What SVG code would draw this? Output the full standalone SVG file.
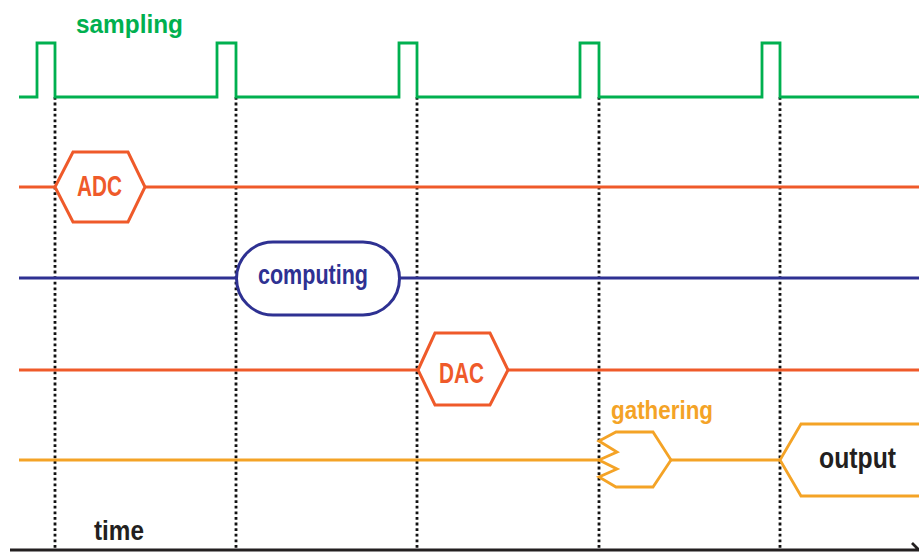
<svg xmlns="http://www.w3.org/2000/svg" width="919" height="553" viewBox="0 0 919 553">
<style>
text{font-family:"Liberation Sans",Arial,sans-serif;font-weight:bold;text-anchor:start}
.g{stroke:#00b04f;stroke-width:2.8;fill:none;stroke-linejoin:miter}
.r{stroke:#ef5a2a;stroke-width:3;fill:none}
.rf{stroke:#ef5a2a;stroke-width:3;fill:#fff}
.b{stroke:#2e3192;stroke-width:3;fill:none}
.bf{stroke:#2e3192;stroke-width:3;fill:#fff}
.o{stroke:#f4a326;stroke-width:2.8;fill:none}
.of{stroke:#f4a326;stroke-width:2.8;fill:#fff}
.dot{stroke:#111;stroke-width:2.8;stroke-dasharray:2.8 2.8;fill:none}
</style>
<rect width="919" height="553" fill="#fff"/>
<g id="connectors">
<path class="dot" d="M55 97V550M236 97V550M417 97V550M599 97V550M780 97V550"/>
<path class="r" d="M19 187H56M145 187H919"/>
<path class="b" d="M19 278H237M399 278H919"/>
<path class="r" d="M19 370H419M508 370H919"/>
<path class="o" d="M19 460H600M671 460H781"/>
</g>
<g id="sampling">
<path class="g" d="M19 97H37V43H55V97H217V43H236V97H399V43H417V97H580V43H599V97H762V43H780V97H919"/>
<text x="76" y="33" font-size="26" fill="#00b04f" textLength="107" lengthAdjust="spacingAndGlyphs">sampling</text>
</g>
<g id="adc">
<polygon class="rf" points="55,187 73,152 128,152 145,187 128,222 73,222"/>
<text x="77" y="196" font-size="29" fill="#ef5a2a" textLength="45" lengthAdjust="spacingAndGlyphs">ADC</text>
</g>
<g id="computing">
<rect class="bf" x="236.5" y="242" width="163" height="73" rx="36.5" ry="36.5"/>
<text x="258" y="284" font-size="27" fill="#2e3192" textLength="110" lengthAdjust="spacingAndGlyphs">computing</text>
</g>
<g id="dac">
<polygon class="rf" points="418,370 435,333 490,333 508,370 490,405 435,405"/>
<text x="439" y="383" font-size="29" fill="#ef5a2a" textLength="45" lengthAdjust="spacingAndGlyphs">DAC</text>
</g>
<g id="gathering">
<polygon class="of" points="616,432 653,432 671,460 653,487 616,487 599,477 617,469 599,460 617,452 599,441"/>
<text x="611" y="419" font-size="25" fill="#f4a326" textLength="102" lengthAdjust="spacingAndGlyphs">gathering</text>
</g>
<g id="output">
<path class="of" d="M925 424H801L780 460L801 496H925"/>
<text x="819" y="468" font-size="29" fill="#231f20" textLength="77" lengthAdjust="spacingAndGlyphs">output</text>
</g>
<g id="time">
<path d="M10 550H919M912 543L919 550" stroke="#231f20" stroke-width="2.8" fill="none"/>
<text x="94" y="540" font-size="28" fill="#231f20" textLength="50" lengthAdjust="spacingAndGlyphs">time</text>
</g>
</svg>
